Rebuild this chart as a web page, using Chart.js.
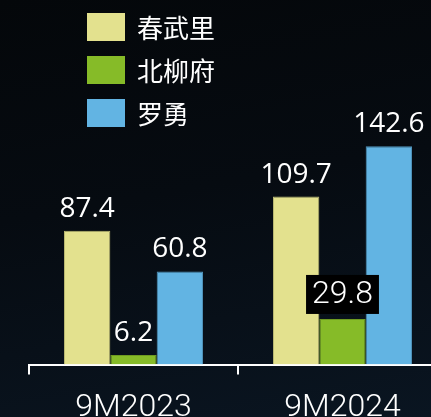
<!DOCTYPE html>
<html>
<head>
<meta charset="utf-8">
<script src="https://cdn.jsdelivr.net/npm/chart.js@4.4.1/dist/chart.umd.min.js"></script>
<style>
  html, body { margin: 0; padding: 0; overflow: hidden; }
  body {
    width: 431px; height: 417px;
    background: linear-gradient(170deg, #04070a 0%, #060b11 45%, #0a1521 100%);
  }
  #wrap { position: relative; width: 460px; height: 441px; }
</style>
</head>
<body>
<div id="wrap"><canvas id="myChart"></canvas></div>
<script>
const categories = ['9M2023', '9M2024']
const seriesNames = ['春武里', '北柳府', '罗勇']
const chonburi = [87.4, 109.7]
const chachoengsao = [6.2, 29.8]
const rayong = [60.8, 142.6]
const colors = ['#e3e18e', '#86bb28', '#62b4e3']
const borders = ['#b9b872', '#6e9a20', '#4f93ba']

// value labels above the bars (one label is drawn in a black box)
const valueLabels = {
  id: 'valueLabels',
  afterDatasetsDraw(chart) {
    const ctx = chart.ctx
    ctx.save()
    ctx.textAlign = 'center'
    chart.data.datasets.forEach((ds, i) => {
      const meta = chart.getDatasetMeta(i)
      meta.data.forEach((bar, j) => {
        const txt = ds.data[j].toFixed(1)
        if (i == 1 && j == 1) {
          ctx.font = '300 32px Roboto, "Liberation Sans", sans-serif'
          const w = ctx.measureText(txt).width + 12
          ctx.fillStyle = '#000000'
          ctx.fillRect(bar.x - w / 2, bar.y - 44, w, 39)
          ctx.fillStyle = '#ffffff'
          ctx.textBaseline = 'middle'
          ctx.fillText(txt, bar.x, bar.y - 24)
        } else {
          ctx.font = '28px "Open Sans", "Noto Sans", sans-serif'
          ctx.fillStyle = '#ffffff'
          ctx.textBaseline = 'alphabetic'
          ctx.fillText(txt, bar.x, bar.y - 14)
        }
      })
    })
    ctx.restore()
  }
}

// legend as a column in the top left
const columnLegend = {
  id: 'columnLegend',
  afterDraw(chart) {
    const ctx = chart.ctx
    ctx.save()
    chart.data.datasets.forEach((ds, i) => {
      const y = 13 + i * 43
      ctx.fillStyle = ds.backgroundColor
      ctx.fillRect(87, y, 38, 28)
      ctx.fillStyle = '#ffffff'
      ctx.font = '26px "Noto Sans CJK SC", sans-serif'
      ctx.textBaseline = 'middle'
      ctx.textAlign = 'left'
      ctx.fillText(ds.label, 137, y + 15)
    })
    ctx.restore()
  }
}

const ctx = document.getElementById('myChart')
new Chart(ctx, {
  type: 'bar',
  data: {
    labels: categories,
    datasets: [chonburi, chachoengsao, rayong].map((d, i) => ({
      label: seriesNames[i],
      data: d,
      backgroundColor: colors[i],
      borderColor: borders[i],
      borderWidth: 1,
      categoryPercentage: 0.665,
      barPercentage: 1
    }))
  },
  options: {
    responsive: true,
    maintainAspectRatio: false,
    animation: false,
    layout: { padding: { left: 29, right: 13, top: 0, bottom: 0 } },
    plugins: { legend: { display: false }, tooltip: { enabled: false } },
    scales: {
      x: {
        grid: { drawOnChartArea: false, drawTicks: true, tickLength: 10, color: '#ffffff', lineWidth: 2, offset: true },
        border: { display: true, color: '#ffffff', width: 2 },
        ticks: { color: '#ffffff', padding: 14, font: { family: 'Roboto, "Liberation Sans", sans-serif', size: 32, weight: 300 } }
      },
      y: { display: false, min: 0, max: 238 }
    }
  },
  plugins: [valueLabels, columnLegend]
})
</script>
</body>
</html>
